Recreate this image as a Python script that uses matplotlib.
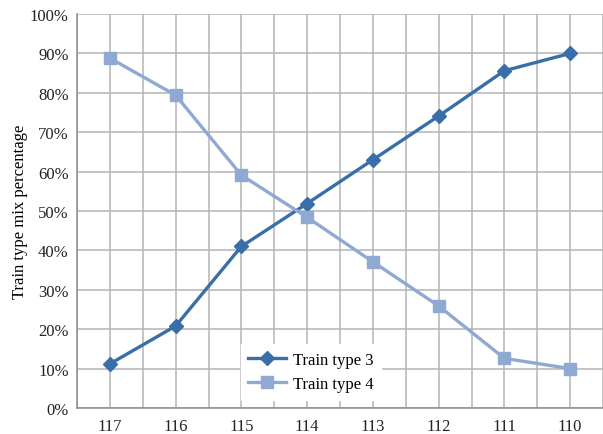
import matplotlib
matplotlib.use("Agg")
import matplotlib.pyplot as plt
from matplotlib.ticker import FixedLocator, PercentFormatter

plt.rcParams['font.family'] = ['Liberation Serif', 'DejaVu Serif']

categories = ["117", "116", "115", "114", "113", "112", "111", "110"]
type3 = [11.2, 20.8, 41.0, 51.9, 63.0, 74.1, 85.6, 90.0]
type4 = [88.8, 79.4, 59.1, 48.4, 37.1, 25.9, 12.6, 10.0]

fig = plt.figure(figsize=(6.03, 4.35), dpi=100)
ax = fig.add_axes([0.1277, 0.0598, 0.8723, 0.9057])

x = list(range(len(categories)))
c3 = "#3A6EA8"
c4 = "#8FA9D3"
ax.plot(x, type3, color=c3, lw=2.4, marker="D", ms=7, label="Train type 3", zorder=3)
ax.plot(x, type4, color=c4, lw=2.4, marker="s", ms=8.5, label="Train type 4", zorder=3)

ax.set_xlim(-0.5, len(categories) - 0.5)
ax.set_ylim(0, 100)
ax.set_xticks(x)
ax.set_xticklabels(categories)
ax.xaxis.set_minor_locator(FixedLocator([i + 0.5 for i in range(-1, len(categories))]))
ax.set_yticks(range(0, 101, 10))
ax.yaxis.set_major_formatter(PercentFormatter(decimals=0))

gc = "#B4B4B8"
ax.grid(True, which="major", color=gc, lw=1.1)
ax.grid(True, which="minor", axis="x", color=gc, lw=1.1)
ax.set_axisbelow(True)

for s in ["top", "right"]:
    ax.spines[s].set_visible(False)
for s in ["left", "bottom"]:
    ax.spines[s].set_color("#8C8C90")
    ax.spines[s].set_linewidth(1.1)

ax.tick_params(axis="x", which="major", length=0, pad=7, labelsize=12, colors="#222222")
ax.tick_params(axis="x", which="minor", length=0)
ax.tick_params(axis="y", which="major", length=0, pad=6, labelsize=12, colors="#222222")

ax.set_ylabel("Train type mix percentage", fontsize=12, labelpad=1)

leg = ax.legend(loc="lower left", bbox_to_anchor=(0.295, 0.0), frameon=True,
                fontsize=12, handlelength=2.3, handletextpad=0.4, borderpad=0.45,
                labelspacing=0.5, fancybox=False, framealpha=1)
leg.get_frame().set_edgecolor("white")
leg.get_frame().set_facecolor("white")

fig.savefig("out.png", dpi=100)
